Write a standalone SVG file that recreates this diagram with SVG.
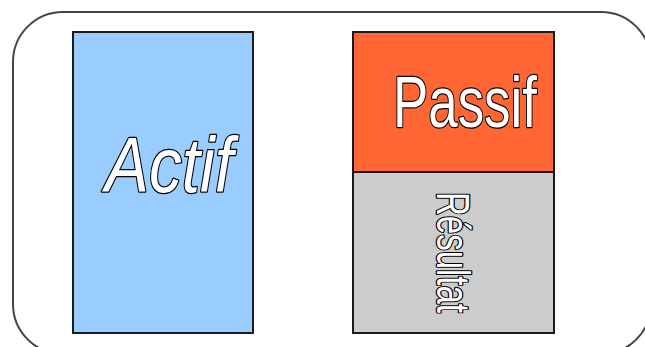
<svg xmlns="http://www.w3.org/2000/svg" width="645" height="347" viewBox="0 0 645 347">
  <style>
    .box { stroke: #1a1a1a; stroke-width: 2; }
    .lbl { font-family: "Liberation Sans", "DejaVu Sans", sans-serif; fill: #ffffff; stroke: #000000; stroke-width: 2.5; paint-order: stroke; stroke-linejoin: round; }
  </style>
  <rect x="0" y="0" width="645" height="347" fill="#ffffff"/>
  <g id="frame">
    <rect x="13" y="12" width="638" height="342" rx="50" ry="50" fill="none" stroke="#444444" stroke-width="2"/>
  </g>
  <g id="actif">
    <rect class="box" x="73" y="32" width="180" height="301" fill="#99CCFF"/>
    <text class="lbl" x="105" y="192" font-size="78" font-style="italic" textLength="128" lengthAdjust="spacingAndGlyphs">Actif</text>
  </g>
  <g id="passif">
    <rect class="box" x="353" y="32" width="201" height="140" fill="#FF6633"/>
    <text class="lbl" x="393" y="127" font-size="72" textLength="144" lengthAdjust="spacingAndGlyphs">Passif</text>
  </g>
  <g id="resultat">
    <rect class="box" x="353" y="172" width="201" height="161" fill="#CCCCCC"/>
    <text class="lbl" transform="translate(437,192) rotate(90)" x="0" y="0" font-size="46" stroke-width="2" textLength="121" lengthAdjust="spacingAndGlyphs">Résultat</text>
  </g>
  <g id="connectors"></g>
</svg>
